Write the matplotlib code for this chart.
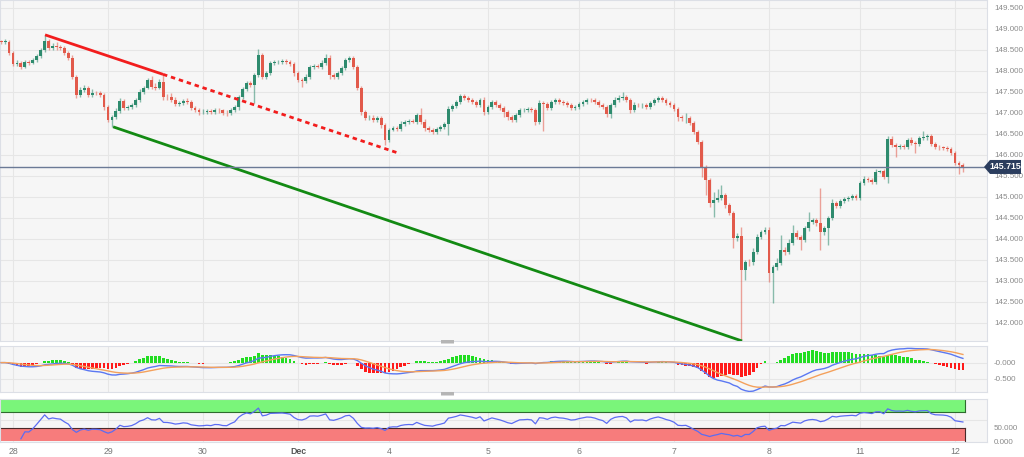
import numpy as np
import pandas as pd
import matplotlib
matplotlib.use("Agg")
import matplotlib.pyplot as plt
from matplotlib.patches import FancyBboxPatch, Polygon

# ---------------- data (hourly USD/JPY candles) ----------------
first_open = 148.70
closes = [
    148.69, 148.70, 148.43, 148.17, 148.19, 148.10, 148.21, 148.20, 148.26, 148.36, 148.50, 148.71,
    148.55, 148.60, 148.57, 148.55, 148.43, 148.31, 147.86, 147.43, 147.55, 147.60, 147.43, 147.48,
    147.47, 147.43, 147.14, 146.83, 146.90, 147.05, 147.29, 147.12, 147.14, 147.19, 147.31, 147.50,
    147.60, 147.79, 147.62, 147.60, 147.74, 147.38, 147.37, 147.31, 147.21, 147.24, 147.29, 147.26,
    147.12, 147.07, 147.02, 147.03, 147.05, 147.02, 147.07, 147.06, 147.00, 146.99, 147.07, 147.14,
    147.38, 147.57, 147.71, 147.67, 147.90, 148.38, 147.86, 147.95, 148.19, 148.21, 148.22, 148.24,
    148.21, 148.17, 147.95, 147.79, 147.76, 147.86, 148.10, 148.12, 148.10, 148.19, 148.31, 147.90,
    147.86, 147.95, 148.07, 148.26, 148.31, 148.10, 147.60, 147.02, 146.88, 146.89, 146.83, 146.88,
    146.71, 146.36, 146.60, 146.64, 146.63, 146.74, 146.79, 146.81, 146.79, 146.95, 146.79, 146.64,
    146.60, 146.55, 146.62, 146.67, 146.74, 147.10, 147.17, 147.26, 147.40, 147.36, 147.31, 147.26,
    147.19, 147.31, 147.02, 147.14, 147.26, 147.19, 147.12, 147.02, 146.90, 146.83, 146.95, 147.07,
    147.08, 147.10, 147.07, 146.79, 147.24, 147.21, 147.12, 147.26, 147.31, 147.26, 147.24, 147.19,
    147.12, 147.14, 147.21, 147.26, 147.31, 147.30, 147.26, 147.19, 147.14, 146.98, 147.19, 147.31,
    147.36, 147.38, 147.31, 147.07, 147.19, 147.18, 147.19, 147.14, 147.24, 147.31, 147.36, 147.31,
    147.24, 147.19, 147.10, 146.90, 146.88, 146.89, 146.76, 146.55, 146.31, 145.71, 145.40, 144.86,
    144.93, 144.98, 145.05, 144.81, 144.62, 144.02, 144.07, 143.26, 143.45, 143.44, 143.69, 144.05,
    144.17, 144.21, 143.19, 143.33, 143.43, 143.74, 143.69, 143.90, 144.14, 144.05, 143.98, 144.26,
    144.40, 144.45, 144.38, 144.17, 144.26, 144.50, 144.86, 144.79, 144.90, 144.95, 144.98, 145.02,
    144.98, 145.33, 145.43, 145.40, 145.36, 145.60, 145.61, 145.48, 146.38, 146.24, 146.19, 146.21,
    146.19, 146.36, 146.29, 146.26, 146.40, 146.42, 146.45, 146.26, 146.19, 146.18, 146.17, 146.14,
    146.05, 145.81, 145.76, 145.715,
]
# wick lengths above / below the candle body
up_wick = [
    0.04, 0.05, 0.03, 0.04, 0.06, 0.04, 0.05, 0.04, 0.05, 0.04, 0.05, 0.15,
    0.05, 0.06, 0.08, 0.05, 0.04, 0.05, 0.06, 0.05, 0.07, 0.06, 0.05, 0.08,
    0.04, 0.05, 0.04, 0.05, 0.05, 0.06, 0.07, 0.05, 0.06, 0.05, 0.04, 0.06,
    0.05, 0.05, 0.08, 0.10, 0.06, 0.16, 0.08, 0.10, 0.06, 0.05, 0.04, 0.07,
    0.05, 0.04, 0.05, 0.06, 0.04, 0.05, 0.04, 0.05, 0.04, 0.06, 0.05, 0.05,
    0.05, 0.06, 0.05, 0.06, 0.05, 0.14, 0.05, 0.06, 0.05, 0.04, 0.05, 0.04,
    0.04, 0.05, 0.05, 0.04, 0.05, 0.06, 0.04, 0.05, 0.05, 0.06, 0.10, 0.08,
    0.05, 0.06, 0.05, 0.06, 0.05, 0.05, 0.04, 0.05, 0.05, 0.06, 0.05, 0.04,
    0.05, 0.06, 0.05, 0.04, 0.05, 0.06, 0.05, 0.04, 0.05, 0.06, 0.18, 0.06,
    0.05, 0.04, 0.05, 0.04, 0.05, 0.06, 0.05, 0.04, 0.06, 0.05, 0.05, 0.04,
    0.05, 0.05, 0.06, 0.05, 0.06, 0.05, 0.04, 0.05, 0.04, 0.05, 0.04, 0.05,
    0.04, 0.05, 0.04, 0.05, 0.06, 0.05, 0.04, 0.05, 0.05, 0.04, 0.05, 0.04,
    0.05, 0.04, 0.05, 0.04, 0.05, 0.04, 0.05, 0.04, 0.05, 0.04, 0.05, 0.06,
    0.06, 0.12, 0.05, 0.04, 0.08, 0.05, 0.04, 0.05, 0.04, 0.05, 0.05, 0.04,
    0.04, 0.05, 0.04, 0.05, 0.04, 0.11, 0.04, 0.05, 0.04, 0.05, 0.04, 0.05,
    0.18, 0.20, 0.24, 0.05, 0.04, 0.05, 0.06, 0.22, 0.06, 0.08, 0.10, 0.06,
    0.05, 0.08, 0.08, 0.06, 0.12, 0.35, 0.08, 0.10, 0.19, 0.08, 0.05, 0.06,
    0.24, 0.06, 0.05, 0.83, 0.06, 0.05, 0.08, 0.05, 0.06, 0.04, 0.05, 0.04,
    0.05, 0.06, 0.08, 0.05, 0.05, 0.06, 0.04, 0.05, 0.07, 0.06, 0.05, 0.04,
    0.06, 0.05, 0.06, 0.04, 0.05, 0.15, 0.04, 0.05, 0.04, 0.05, 0.04, 0.05,
    0.04, 0.05, 0.04, 0.04,
]
down_wick = [
    0.04, 0.05, 0.04, 0.05, 0.04, 0.06, 0.04, 0.05, 0.04, 0.05, 0.04, 0.05,
    0.05, 0.04, 0.06, 0.05, 0.04, 0.05, 0.06, 0.08, 0.05, 0.04, 0.05, 0.06,
    0.05, 0.04, 0.06, 0.05, 0.16, 0.05, 0.04, 0.05, 0.06, 0.05, 0.04, 0.05,
    0.05, 0.04, 0.06, 0.05, 0.04, 0.06, 0.05, 0.06, 0.05, 0.04, 0.05, 0.04,
    0.06, 0.05, 0.08, 0.05, 0.06, 0.05, 0.04, 0.06, 0.05, 0.06, 0.05, 0.04,
    0.06, 0.05, 0.04, 0.05, 0.43, 0.05, 0.06, 0.05, 0.04, 0.05, 0.04, 0.05,
    0.04, 0.05, 0.06, 0.05, 0.14, 0.05, 0.04, 0.05, 0.04, 0.05, 0.04, 0.08,
    0.05, 0.04, 0.05, 0.04, 0.05, 0.06, 0.05, 0.06, 0.05, 0.04, 0.05, 0.04,
    0.06, 0.12, 0.05, 0.04, 0.06, 0.05, 0.04, 0.05, 0.04, 0.05, 0.06, 0.08,
    0.06, 0.05, 0.04, 0.05, 0.04, 0.26, 0.05, 0.04, 0.05, 0.06, 0.05, 0.04,
    0.05, 0.04, 0.06, 0.05, 0.04, 0.05, 0.06, 0.12, 0.06, 0.05, 0.04, 0.05,
    0.04, 0.05, 0.04, 0.07, 0.05, 0.65, 0.05, 0.04, 0.05, 0.04, 0.05, 0.04,
    0.05, 0.04, 0.05, 0.04, 0.05, 0.04, 0.05, 0.04, 0.05, 0.08, 0.10, 0.05,
    0.04, 0.05, 0.04, 0.06, 0.05, 0.04, 0.05, 0.04, 0.05, 0.04, 0.05, 0.04,
    0.05, 0.04, 0.05, 0.08, 0.06, 0.12, 0.05, 0.06, 0.06, 0.23, 0.35, 0.10,
    0.34, 0.05, 0.06, 0.08, 0.06, 0.23, 0.08, 1.71, 0.24, 0.08, 0.06, 0.05,
    0.06, 0.05, 0.21, 0.71, 0.06, 0.05, 0.08, 0.06, 0.05, 0.06, 0.24, 0.05,
    0.06, 0.05, 0.06, 0.43, 0.08, 0.40, 0.06, 0.05, 0.06, 0.05, 0.04, 0.05,
    0.06, 0.05, 0.04, 0.05, 0.06, 0.05, 0.04, 0.05, 0.15, 0.05, 0.24, 0.05,
    0.04, 0.05, 0.06, 0.21, 0.04, 0.05, 0.06, 0.05, 0.04, 0.05, 0.04, 0.05,
    0.05, 0.06, 0.21, 0.11,
]

day_labels = ["28", "29", "30", "Dec", "4", "5", "6", "7", "8", "11", "12"]
day_index = [3, 27, 51, 75, 98, 123, 146, 170, 194, 217, 241]

price_ticks = [142.0, 142.5, 143.0, 143.5, 144.0, 144.5, 145.0, 145.5, 146.0,
               146.5, 147.0, 147.5, 148.0, 148.5, 149.0, 149.5]
last_price = 145.715

# trend lines: (index, price) anchors
resist_line = [(11.1, 148.86), (40.9, 147.92)]
resist_ext_to = 100.8
support_line = [(28.3, 146.67), (187.2, 141.57)]

# ---------------- derived series ----------------
c = np.array(closes)
o = np.r_[first_open, c[:-1]]
hi = np.maximum(o, c) + np.array(up_wick)
lo = np.minimum(o, c) - np.array(down_wick)
idx = np.arange(len(c))

s = pd.Series(c)
macd = s.ewm(span=12, adjust=False).mean() - s.ewm(span=26, adjust=False).mean()
signal = macd.ewm(span=9, adjust=False).mean()
hist = 2 * (macd - signal)   # platform draws histogram as 2*(DIF-DEA)

d = s.diff()
gain = d.clip(lower=0).ewm(alpha=1 / 14, min_periods=5).mean()
loss = (-d.clip(upper=0)).ewm(alpha=1 / 14, min_periods=5).mean()
rsi = 100 - 100 / (1 + gain / loss)

# ---------------- figure ----------------
W, H = 1024, 457
fig = plt.figure(figsize=(W / 100, H / 100), dpi=100)
fig.patch.set_facecolor("white")
plt.rcParams["font.family"] = ["Liberation Sans", "DejaVu Sans"]

GREEN = "#2e8b6e"
RED = "#e25a4b"
GRID = "#e6e6e6"
BG = "#f6f6f6"
TXT = "#8a8a8a"
PX0, STEP = 13.0, 3.958          # pixel of candle 3 and candle spacing
XL = (3 - PX0 / STEP, 3 + (987 - PX0) / STEP)


def px_axes(left, top, right, bottom):
    ax = fig.add_axes([left / W, 1 - bottom / H, (right - left) / W, (bottom - top) / H])
    ax.set_facecolor(BG)
    for sp in ax.spines.values():
        sp.set_color("#dcdfe6")
        sp.set_linewidth(0.8)
    ax.set_xlim(*XL)
    ax.set_xticks(day_index)
    ax.set_xticklabels([])
    ax.tick_params(length=0, labelsize=5.8, colors=TXT, pad=5)
    ax.yaxis.tick_right()
    ax.grid(True, color=GRID, lw=0.8)
    ax.set_axisbelow(True)
    return ax


# price panel
ax = px_axes(0, 0, 987, 341)
ax.set_ylim(141.57, 149.69)
ax.set_yticks(price_ticks)
ax.set_yticklabels([f"{t:.3f}" for t in price_ticks])

up = c >= o
cols = np.where(up, GREEN, RED)
ax.vlines(idx, lo, hi, colors=cols, lw=1.0, alpha=0.55, zorder=2)
body_h = np.maximum(np.abs(c - o), 0.012)
ax.bar(idx, body_h, bottom=np.minimum(o, c), width=0.72, color=cols, lw=0, zorder=3)

# trend lines
(x0, y0), (x1, y1) = resist_line
slope = (y1 - y0) / (x1 - x0)
ax.plot([x0, x1], [y0, y1], color="#f21d1d", lw=2, zorder=4, solid_capstyle="butt")
ax.plot([x1, resist_ext_to], [y1, y1 + slope * (resist_ext_to - x1)], color="#f21d1d",
        lw=2, ls=(0, (1.6, 1.4)), zorder=4)
(gx0, gy0), (gx1, gy1) = support_line
ax.plot([gx0, gx1], [gy0, gy1], color="#138a13", lw=2, zorder=4, solid_capstyle="butt")

# last price line + label
ax.axhline(last_price, color="#6b7a96", lw=1, zorder=5)
ly = 29 + (149.0 - last_price) * 42      # pixel row of the last price
tag = Polygon([[984 / W, 1 - ly / H], [990 / W, 1 - (ly - 7) / H], [1021 / W, 1 - (ly - 7) / H],
               [1021 / W, 1 - (ly + 7) / H], [990 / W, 1 - (ly + 7) / H]],
              closed=True, transform=fig.transFigure, fc="#2b3d5e", ec="none", zorder=10)
fig.patches.append(tag)
fig.text(1005.5 / W, 1 - ly / H, f"{last_price:.3f}", fontsize=6.3, fontweight="bold",
         color="white", ha="center", va="center", zorder=11)

# MACD panel
ax2 = px_axes(0, 346, 987, 392)
ax2.set_ylim(-0.92, 0.52)
ax2.set_yticks([0.0, -0.5])
ax2.set_yticklabels(["-0.000", "-0.500"])
hcol = np.where(hist >= 0, "#22dd22", "#ff1a1a")
ax2.bar(idx, hist, width=0.7, color=hcol, lw=0, zorder=2)
ax2.plot(idx, macd, color="#5b78f2", lw=1, zorder=3)
ax2.plot(idx, signal, color="#f4a15c", lw=1, zorder=3)

# RSI panel
ax3 = px_axes(0, 399, 987, 442)
ax3.set_ylim(-3, 100)
ax3.set_yticks([50])
ax3.set_yticklabels([])
last_i = idx[-1] + 0.5
ax3.fill_between([XL[0], last_i], 70, 100, color="#7af57a", lw=0, zorder=1)
ax3.fill_between([XL[0], last_i], 0, 30, color="#f77c7c", lw=0, zorder=1)
ax3.plot([XL[0], last_i], [70, 70], color="#2e6b2e", lw=0.8, zorder=2)
ax3.plot([XL[0], last_i], [30, 30], color="#4a2a2a", lw=0.8, zorder=2)
ax3.plot([last_i, last_i], [70, 100], color="#2e6b2e", lw=0.8, zorder=2)
ax3.plot([last_i, last_i], [0, 30], color="#4a2a2a", lw=0.8, zorder=2)
ax3.plot(idx, rsi, color="#5b6cf2", lw=0.9, zorder=3)
fig.text(994 / W, 1 - 429 / H, "50.000", fontsize=5.8, color=TXT, va="center", ha="left")
fig.text(994 / W, 1 - 442 / H, "0.000", fontsize=5.8, color=TXT, va="center", ha="left")

# day labels
for i, lab in zip(day_index, day_labels):
    xf = (PX0 + (i - 3) * STEP) / W
    fig.text(xf, 1 - 451 / H, lab, fontsize=6.3, color="#777777" if lab != "Dec" else "#555555",
             fontweight="bold" if lab == "Dec" else "normal", ha="center", va="center")

# panel resize handles
for yy in (341.5, 393.5):
    fig.patches.append(FancyBboxPatch((441 / W, 1 - (yy + 2) / H), 13 / W, 3.5 / H,
                                      boxstyle="round,pad=0", transform=fig.transFigure,
                                      fc="#b5b5b5", ec="none"))

fig.savefig("out.png", dpi=100)
